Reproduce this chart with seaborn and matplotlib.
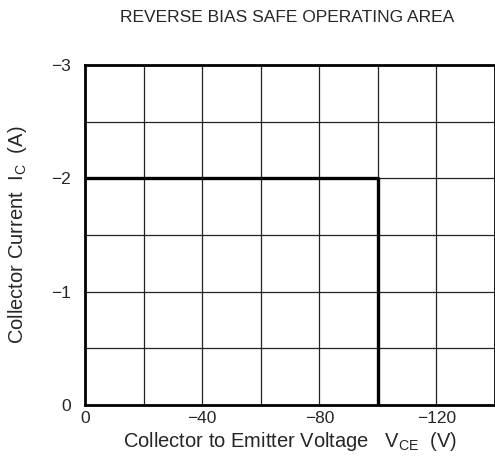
import matplotlib
matplotlib.use("Agg")
import matplotlib.pyplot as plt
import seaborn as sns
import pandas as pd

# safe operating area boundary (V_CE, I_C)
soa_voltage = [0, -100, -100]
soa_current = [-2, -2, 0]

x_ticks = [0, -40, -80, -120]
x_tick_labels = ["0", "\u221240", "\u221280", "\u2212120"]
y_ticks = [0, -1, -2, -3]
y_tick_labels = ["0", "\u22121", "\u22122", "\u22123"]
x_grid = [-20, -40, -60, -80, -100, -120]
y_grid = [-0.5, -1, -1.5, -2, -2.5]


def plot_soa(df):
    sns.set_style("white")
    plt.rcParams["font.family"] = ["Liberation Sans", "DejaVu Sans"]
    fig = plt.figure(figsize=(4.95, 4.61), dpi=100)
    ax = fig.add_axes([0.172, 0.1215, 0.828, 0.7375])

    for v in x_grid:
        ax.axvline(v, color="#222222", lw=0.9, zorder=1)
    for c in y_grid:
        ax.axhline(c, color="#222222", lw=0.9, zorder=1)

    sns.lineplot(data=df, x="voltage", y="current", sort=False,
                 estimator=None, color="black", lw=2.4, ax=ax, zorder=3)

    ax.set_xlim(0, -140)
    ax.set_ylim(0, -3)
    ax.set_xticks(x_ticks)
    ax.set_xticklabels(x_tick_labels, fontsize=12.5)
    ax.set_yticks(y_ticks)
    ax.set_yticklabels(y_tick_labels, fontsize=12.5)
    ax.tick_params(axis="x", length=0, pad=4)
    ax.tick_params(axis="y", length=0, pad=10)
    for s in ax.spines.values():
        s.set_linewidth(2)
        s.set_color("black")

    ax.set_xlabel("Collector to Emitter Voltage   V$_{\\mathregular{CE}}$  (V)",
                  fontsize=14.5, labelpad=3)
    ax.set_ylabel("Collector Current  I$_{\\mathregular{C}}$  (A)",
                  fontsize=14.5, labelpad=16)
    fig.text(0.58, 0.962, "REVERSE BIAS SAFE OPERATING AREA",
             ha="center", va="center", fontsize=12.5)
    fig.savefig("out.png", dpi=100)


if __name__ == "__main__":
    soa = pd.DataFrame({"voltage": soa_voltage, "current": soa_current})
    plot_soa(soa)
